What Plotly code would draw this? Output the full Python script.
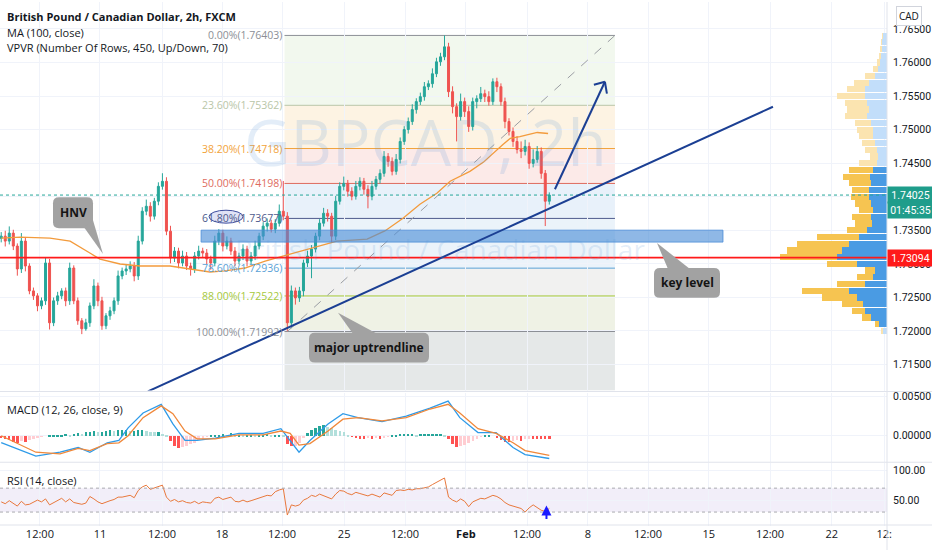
import plotly.graph_objects as go

# ---------------- data ----------------
# one candle per 4h (two 2h bars), x = candle index
open0 = 1.73380
close = [
    1.73413, 1.73339, 1.73458, 1.73265, 1.72924, 1.73339, 1.72968, 1.72597, 1.72523, 1.72374,
    1.72449, 1.73013, 1.72122, 1.72449, 1.72523, 1.72597, 1.72449, 1.72938, 1.72449, 1.72152,
    1.72033, 1.72122, 1.72374, 1.72671, 1.72449, 1.72077, 1.72226, 1.72300, 1.72449, 1.72820,
    1.72894, 1.72924, 1.72968, 1.72820, 1.73339, 1.73784, 1.73858, 1.73710, 1.73933, 1.74155,
    1.74230, 1.73487, 1.73087, 1.73190, 1.73013, 1.73116, 1.72968, 1.72924, 1.73116, 1.73190,
    1.73161, 1.73072, 1.73013, 1.73339, 1.73458, 1.73265, 1.73339, 1.73190, 1.73042, 1.73116,
    1.73220, 1.73042, 1.73116, 1.73265, 1.73413, 1.73562, 1.73606, 1.73517, 1.73606, 1.73784,
    1.73710, 1.72122, 1.72597, 1.72493, 1.72597, 1.73013, 1.73116, 1.73220, 1.73413, 1.73606,
    1.73754, 1.73710, 1.73413, 1.73933, 1.74155, 1.74200, 1.74081, 1.74007, 1.74155, 1.74230,
    1.74111, 1.74007, 1.74155, 1.74259, 1.74348, 1.74600, 1.74526, 1.74378, 1.74556, 1.74823,
    1.75001, 1.75120, 1.75298, 1.75417, 1.75491, 1.75639, 1.75684, 1.75832, 1.76010, 1.76084,
    1.76233, 1.75565, 1.75342, 1.75194, 1.75417, 1.75268, 1.75046, 1.75417, 1.75461, 1.75535,
    1.75491, 1.75417, 1.75713, 1.75639, 1.75417, 1.75120, 1.74972, 1.74823, 1.74704, 1.74675,
    1.74749, 1.74497, 1.74556, 1.74675, 1.74348, 1.73933, 1.74025,
]
# wick lengths in pips
wick_up = [
    6, 8, 10, 5, 4, 12, 6, 4, 5, 4,
    5, 8, 6, 5, 6, 4, 5, 8, 4, 5,
    4, 6, 5, 10, 5, 6, 4, 6, 5, 8,
    5, 6, 7, 6, 8, 6, 10, 6, 5, 6,
    12, 6, 8, 6, 5, 8, 6, 5, 6, 8,
    5, 6, 5, 8, 6, 5, 7, 5, 6, 5,
    7, 5, 6, 8, 5, 6, 7, 5, 6, 10,
    45, 6, 8, 5, 6, 5, 8, 6, 5, 6,
    8, 6, 5, 8, 6, 10, 5, 6, 8, 6,
    5, 6, 8, 5, 6, 8, 5, 6, 8, 6,
    5, 6, 8, 5, 6, 7, 5, 8, 6, 6,
    17, 6, 8, 5, 12, 6, 8, 6, 5, 10,
    6, 8, 5, 6, 5, 6, 5, 6, 8, 12,
    10, 6, 15, 8, 6, 5, 4,
]
wick_dn = [
    6, 8, 5, 6, 10, 6, 8, 5, 6, 8,
    5, 6, 10, 5, 6, 5, 8, 6, 5, 6,
    8, 3, 6, 5, 8, 6, 5, 6, 5, 6,
    5, 6, 5, 8, 6, 5, 6, 8, 5, 6,
    5, 6, 8, 6, 8, 5, 6, 10, 6, 5,
    6, 8, 10, 5, 6, 8, 5, 6, 8, 5,
    6, 8, 5, 6, 5, 6, 8, 5, 6, 5,
    6, 13, 8, 10, 6, 8, 6, 33, 5, 6,
    5, 8, 10, 6, 5, 6, 8, 6, 5, 6,
    8, 18, 6, 5, 6, 5, 8, 6, 5, 6,
    5, 6, 5, 6, 5, 6, 5, 6, 5, 6,
    5, 8, 10, 37, 6, 8, 8, 6, 10, 5,
    8, 6, 5, 8, 6, 10, 6, 8, 6, 10,
    6, 8, 6, 5, 8, 37, 5,
]

ma_x = [0, 4.7, 12.1, 17.1, 22.0, 24.5, 29.5, 34.4, 41.9, 46.8, 51.8, 55.5, 60.5, 65.5, 69.9,
        74.9, 83.3, 90.8, 95.2, 99.7, 103.9, 108.1, 111.4, 116.3, 119.6, 124.5, 126.3, 128.7,
        133.0, 135.7]
ma100 = [1.73384, 1.73398, 1.73384, 1.73339, 1.73161, 1.73072, 1.72998, 1.72968, 1.72968,
         1.72924, 1.72879, 1.72894, 1.72938, 1.73042, 1.73116, 1.73190, 1.73339, 1.73369,
         1.73490, 1.73680, 1.73888, 1.74051, 1.74230, 1.74378, 1.74512, 1.74779, 1.74868,
         1.74897, 1.74957, 1.74942]

macd_x = [0, 8.6, 14.6, 19.1, 22.0, 26.3, 29.2, 31.5, 35.2, 39.7, 42.6, 45.6, 48.6, 53.1, 59.0,
          65.0, 69.4, 71.7, 73.9, 76.6, 81.1, 84.8, 88.5, 94.5, 100.5, 106.4, 110.9, 113.8,
          118.3, 122.8, 127.0, 130.0, 136.0]
macd = [-0.00088, -0.00260, -0.00210, -0.00150, -0.00210, -0.00090, -0.00060, 0.00100,
        0.00290, 0.00400, 0.00150, -0.00060, -0.00060, -0.00030, 0.00030, 0.00030, 0.00090,
        -0.00060, -0.00210, -0.00060, 0.00150, 0.00280, 0.00230, 0.00180, 0.00250, 0.00350,
        0.00440, 0.00230, 0.00040, 0.00040, -0.00150, -0.00240, -0.00290]
signal = [0.00000, -0.00210, -0.00230, -0.00160, -0.00190, -0.00100, -0.00090, 0.00000,
          0.00230, 0.00380, 0.00280, 0.00060, -0.00040, -0.00040, 0.00010, 0.00010, 0.00060,
          0.00030, -0.00120, -0.00100, 0.00060, 0.00210, 0.00230, 0.00190, 0.00230, 0.00340,
          0.00400, 0.00290, 0.00090, 0.00030, -0.00090, -0.00190, -0.00250]
hist_e4 = [
    -2, -4, -5, -7, -8, -6, -7, -5, -3, -2,
    -1, 0, 1, 1, 2, 2, 3, 2, 3, 4,
    3, 5, 6, 7, 5, 6, 7, 8, 7, 8,
    8, 8, 7, 7, 8, 8, 7, 6, 5, 5,
    3, 1, -6, -12, -15, -14, -12, -10, -8, -5,
    -3, -1, 1, 2, 2, 3, 2, 4, 2, 2,
    1, 2, 2, 1, 2, 2, 3, 2, 2, 2,
    1, -10, -13, -12, -8, -2, 4, 8, 11, 13,
    14, 12, 10, 8, 7, 6, 2, -1, -2, -3,
    -3, -2, -3, -2, -3, -2, -1, 1, 2, 3,
    3, 3, 3, 2, 3, 3, 3, 3, 3, 3,
    2, -4, -10, -14, -13, -11, -8, -6, -4, -1,
    1, 1, 0, -2, -5, -7, -7, -6, -5, -6,
    -4, -3, -3, -3, -3, -3, -3,
]
rsi = [
    47, 44, 49, 45, 40, 48, 42, 43, 46, 50,
    47, 52, 42, 46, 49, 53, 47, 52, 46, 44,
    43, 45, 56, 52, 47, 44, 47, 49, 51, 55,
    55, 57, 58, 54, 66, 72, 75, 68, 70, 73,
    75, 55, 48, 51, 47, 49, 46, 45, 48, 44,
    47, 46, 45, 53, 55, 51, 53, 55, 48, 47,
    50, 47, 49, 51, 53, 56, 58, 57, 64, 67,
    69, 25, 42, 40, 42, 50, 53, 58, 56, 60,
    57, 55, 52, 60, 66, 65, 61, 59, 63, 61,
    59, 57, 60, 57, 55, 62, 60, 58, 66, 67,
    66, 68, 67, 69, 69, 71, 72, 76, 80, 83,
    87, 55, 50, 47, 52, 48, 39, 47, 50, 53,
    52, 55, 58, 56, 52, 46, 42, 40, 38, 36,
    30, 37, 42, 38, 33, 31, 36,
]

# volume profile (visible range), price rows
vp_price = [1.7200, 1.7210, 1.7220, 1.7230, 1.7240, 1.7250, 1.7260, 1.7270, 1.7280, 1.7290,
            1.7300, 1.7310, 1.7320, 1.7330, 1.7340, 1.7350, 1.7360, 1.7370, 1.7380, 1.7390,
            1.7400, 1.7410, 1.7420, 1.7430, 1.7440, 1.7450, 1.7460, 1.7470, 1.7480, 1.7490,
            1.7500, 1.7510, 1.7520, 1.7530, 1.7540, 1.7550, 1.7560, 1.7570, 1.7580, 1.7590,
            1.7600, 1.7610, 1.7620, 1.7630, 1.7640]
vp_up = [4, 8, 16, 22, 24, 30, 38, 22, 14, 12, 30, 50, 45, 38, 28, 20, 15, 16, 14, 16,
         18, 18, 16, 17, 14, 10, 9, 10, 12, 14, 14, 16, 20, 18, 20, 22, 22, 18, 12, 9,
         7, 6, 5, 5, 4]
vp_down = [2, 4, 9, 13, 21, 35, 47, 28, 16, 10, 30, 57, 55, 52, 42, 20, 17, 19, 14, 16,
           18, 17, 22, 27, 24, 18, 8, 12, 13, 14, 16, 16, 22, 22, 22, 28, 18, 15, 10, 5,
           3, 2, 2, 1, 1]
VALUE_AREA = (1.7205, 1.7447)

fib_ratio_txt = ["0.00%", "23.60%", "38.20%", "50.00%", "61.80%", "78.60%", "88.00%", "100.00%"]
fib_price = [1.76403, 1.75362, 1.74718, 1.74198, 1.73677, 1.72936, 1.72522, 1.71992]
fib_color = ["#8c8f96", "#b9c6a8", "#f2a33a", "#de6b5e", "#4e5b8c", "#5aa2d6", "#a5c83c", "#8c8f96"]
fib_fill = ["#f1f7ec", "#fdf2e0", "#fce8e6", "#e5eff9", "#e9f2fa", "#eff0ee", "#edf1e2", "#e2e6e6"]
FIB_X = (70.3, 152.3)

key_zone = (1.73324, 1.73502)
key_zone_x = (49.6, 179.1)
red_level = 1.73094
last_price = 1.74025
trend = [(36.4, 1.71100), (191.5, 1.75340)]
arrow = [(137.4, 1.74111), (149.8, 1.75713)]

x_tickvals = [9.6, 24.5, 39.9, 54.8, 69.7, 85.1, 100.2, 115.3, 130.5, 145.6, 160.5, 175.6,
              190.8, 206.1, 219.1]
x_ticktext = ["12:00", "11", "12:00", "18", "12:00", "25", "12:00", "<b>Feb</b>", "12:00", "8",
              "12:00", "15", "12:00", "22", "12:"]

# ---------------- geometry ----------------
PLOT_W, PLOT_H = 887, 526
X_RANGE = [-0.3, 219.8]
Y_RANGE = [1.71113, 1.76901]
MACD_RANGE = [-0.003375, 0.0055]
RSI_RANGE = [6.67, 111.67]
FONT = "Open Sans, DejaVu Sans, sans-serif"
AXFONT = dict(family="Roboto, sans-serif", size=10.5, color="#131722")


def ux(px):
    return X_RANGE[0] + px / PLOT_W * (X_RANGE[1] - X_RANGE[0])


def py(pix):
    return Y_RANGE[1] - pix / 390 * (Y_RANGE[1] - Y_RANGE[0])


def pp(x, y):
    return f"{x / PLOT_W:.5f},{1 - y / PLOT_H:.5f}"


def rounded_box(x0, y0, x1, y1, r=6):
    return (f"M {pp(x0 + r, y0)} L {pp(x1 - r, y0)} Q {pp(x1, y0)} {pp(x1, y0 + r)} "
            f"L {pp(x1, y1 - r)} Q {pp(x1, y1)} {pp(x1 - r, y1)} L {pp(x0 + r, y1)} "
            f"Q {pp(x0, y1)} {pp(x0, y1 - r)} L {pp(x0, y0 + r)} Q {pp(x0, y0)} {pp(x0 + r, y0)} Z")


n = len(close)
xs = list(range(n))
opens = [open0] + close[:-1]
highs = [max(o, c) + w * 1e-4 for o, c, w in zip(opens, close, wick_up)]
lows = [min(o, c) - w * 1e-4 for o, c, w in zip(opens, close, wick_dn)]
hist = [h * 1e-4 for h in hist_e4]
hist_col = []
for i, h in enumerate(hist):
    prev = hist[i - 1] if i else 0
    if h >= 0:
        hist_col.append("#26a69a" if h >= prev else "#b2dfdb")
    else:
        hist_col.append("#ff5252" if h <= prev else "#ffcdd2")

fig = go.Figure()

fig.add_trace(go.Candlestick(
    x=xs, open=opens, high=highs, low=lows, close=close,
    increasing=dict(line=dict(color="#26a69a", width=1), fillcolor="#26a69a"),
    decreasing=dict(line=dict(color="#ef5350", width=1), fillcolor="#ef5350"),
    whiskerwidth=0, xaxis="x", yaxis="y", hoverinfo="skip"))
fig.add_trace(go.Scatter(x=ma_x, y=ma100, mode="lines", line=dict(color="#f39b3c", width=1.3),
                         xaxis="x", yaxis="y", hoverinfo="skip"))

in_va = [VALUE_AREA[0] <= p <= VALUE_AREA[1] for p in vp_price]
fig.add_trace(go.Bar(x=vp_up, y=vp_price, orientation="h", width=0.00092,
                     marker=dict(color=["#4a9be3" if v else "#c2defa" for v in in_va], line_width=0),
                     xaxis="x4", yaxis="y", hoverinfo="skip"))
fig.add_trace(go.Bar(x=vp_down, y=vp_price, orientation="h", width=0.00092,
                     marker=dict(color=["#f6c451" if v else "#fbe4b0" for v in in_va], line_width=0),
                     xaxis="x4", yaxis="y", hoverinfo="skip"))

fig.add_trace(go.Bar(x=xs, y=hist, marker=dict(color=hist_col, line_width=0), width=0.6,
                     xaxis="x2", yaxis="y2", hoverinfo="skip"))
fig.add_trace(go.Scatter(x=macd_x, y=macd, mode="lines", line=dict(color="#2f9be8", width=1.3),
                         xaxis="x2", yaxis="y2", hoverinfo="skip"))
fig.add_trace(go.Scatter(x=macd_x, y=signal, mode="lines", line=dict(color="#f0883a", width=1.3),
                         xaxis="x2", yaxis="y2", hoverinfo="skip"))

fig.add_trace(go.Scatter(x=xs, y=rsi, mode="lines", line=dict(color="#e8783c", width=1),
                         xaxis="x3", yaxis="y3", hoverinfo="skip"))

shapes = []
annotations = []

# fib retracement bands / levels
for i in range(len(fib_price)):
    top = fib_price[i]
    bot = fib_price[i + 1] if i + 1 < len(fib_price) else Y_RANGE[0]
    shapes.append(dict(type="rect", xref="x", yref="y", x0=FIB_X[0], x1=FIB_X[1], y0=bot, y1=top,
                       fillcolor=fib_fill[i], line_width=0, layer="below", opacity=0.9))
for p, c, t in zip(fib_price, fib_color, fib_ratio_txt):
    shapes.append(dict(type="line", xref="x", yref="y", x0=FIB_X[0], x1=FIB_X[1], y0=p, y1=p,
                       line=dict(color=c, width=1), layer="below"))
    annotations.append(dict(xref="x", yref="y", x=FIB_X[0] - 0.2, y=p, xanchor="right",
                            yanchor="middle", text=f"{t}({p:.5f})", showarrow=False,
                            font=dict(family=FONT, size=10.5, color=c)))
shapes.append(dict(type="line", xref="x", yref="y", x0=71, y0=fib_price[-1], x1=FIB_X[1],
                   y1=fib_price[0], line=dict(color="#9a9da3", width=1, dash="dash")))

# ellipse round 61.80
shapes.append(dict(type="circle", xref="x", yref="y", x0=ux(209), x1=ux(243), y0=py(222), y1=py(209),
                   fillcolor="rgba(170,175,230,0.35)", line=dict(color="#3f4f9f", width=1)))

# key zone, levels, trendline
shapes.append(dict(type="rect", xref="x", yref="y", x0=key_zone_x[0], x1=key_zone_x[1],
                   y0=key_zone[0], y1=key_zone[1], fillcolor="rgba(74,140,215,0.62)",
                   line=dict(color="rgba(74,140,215,0.8)", width=1)))
shapes.append(dict(type="line", xref="paper", yref="y", x0=0, x1=1, y0=last_price, y1=last_price,
                   line=dict(color="#26a69a", width=1, dash="dot")))
shapes.append(dict(type="line", xref="paper", yref="y", x0=0, x1=1, y0=red_level, y1=red_level,
                   line=dict(color="#ff1a1a", width=1.8)))
shapes.append(dict(type="line", xref="x", yref="y", x0=trend[0][0], y0=trend[0][1],
                   x1=trend[1][0], y1=trend[1][1], line=dict(color="#1b3f93", width=2)))

# blue arrow
(ax0, ay0), (ax1, ay1) = arrow
shapes.append(dict(type="line", xref="x", yref="y", x0=ax0, y0=ay0, x1=ax1, y1=ay1,
                   line=dict(color="#1b3f93", width=2)))
for dx, dy in [(-11, 3), (2, 12)]:
    shapes.append(dict(type="line", xref="x", yref="y", x0=ax1, y0=ay1,
                       x1=ax1 + dx * (X_RANGE[1] - X_RANGE[0]) / PLOT_W,
                       y1=ay1 - dy * (Y_RANGE[1] - Y_RANGE[0]) / 390,
                       line=dict(color="#1b3f93", width=2)))

# RSI band
shapes.append(dict(type="rect", xref="paper", yref="y3", x0=0, x1=1, y0=30, y1=70,
                   fillcolor="rgba(149,117,205,0.12)", line_width=0, layer="below"))
for lv in (30, 70):
    shapes.append(dict(type="line", xref="paper", yref="y3", x0=0, x1=1, y0=lv, y1=lv,
                       line=dict(color="#a9aab0", width=1, dash="dot")))

# pane separators and price scale border
for yy in (391, 462, 525):
    shapes.append(dict(type="line", xref="paper", yref="paper", x0=0, x1=932 / PLOT_W,
                       y0=1 - yy / PLOT_H, y1=1 - yy / PLOT_H, line=dict(color="#e0e3eb", width=1)))
shapes.append(dict(type="line", xref="paper", yref="paper", x0=1, x1=1, y0=-0.05, y1=1,
                   line=dict(color="#e0e3eb", width=1)))

# callouts
GREY = "#a2a2a2"
callouts = [
    ("HNV", (53, 196, 93, 227), [(84, 226), (93, 219), (103, 253)]),
    ("major uptrendline", (309, 332, 429, 362), [(353, 333), (377, 333), (338, 312)]),
    ("key level", (654, 267, 720, 297), [(668, 268), (690, 268), (657, 242)]),
]
for text, (x0, y0, x1, y1), tail in callouts:
    shapes.append(dict(type="path", xref="paper", yref="paper", path=rounded_box(x0, y0, x1, y1),
                       fillcolor=GREY, line_width=0))
    shapes.append(dict(type="path", xref="paper", yref="paper",
                       path="M " + " L ".join(pp(a, b) for a, b in tail) + " Z",
                       fillcolor=GREY, line_width=0))
    annotations.append(dict(xref="paper", yref="paper", x=(x0 + x1) / 2 / PLOT_W,
                            y=1 - (y0 + y1) / 2 / PLOT_H, xanchor="center", yanchor="middle",
                            text=f"<b>{text}</b>", showarrow=False,
                            font=dict(family=FONT, size=12, color="#141414")))

# watermark
annotations.append(dict(xref="paper", yref="paper", x=425 / PLOT_W, y=1 - 140 / PLOT_H,
                        xanchor="center", yanchor="middle", text="GBPCAD, 2h", showarrow=False,
                        font=dict(family=FONT, size=64, color="rgba(90,150,215,0.17)")))
annotations.append(dict(xref="paper", yref="paper", x=440 / PLOT_W, y=1 - 248 / PLOT_H,
                        xanchor="center", yanchor="middle",
                        text="British Pound / Canadian Dollar", showarrow=False,
                        font=dict(family=FONT, size=28, color="rgba(90,150,215,0.17)")))

# header and pane titles
for txt, yy, bold in [("British Pound / Canadian Dollar, 2h, FXCM", 15, True),
                      ("MA (100, close)", 31, False),
                      ("VPVR (Number Of Rows, 450, Up/Down, 70)", 46, False),
                      ("MACD (12, 26, close, 9)", 409, False),
                      ("RSI (14, close)", 480, False)]:
    annotations.append(dict(xref="paper", yref="paper", x=5 / PLOT_W, y=1 - yy / PLOT_H,
                            xanchor="left", yanchor="middle", showarrow=False,
                            text=f"<b>{txt}</b>" if bold else txt,
                            font=dict(family=FONT, size=11, color="#131722")))

# price scale labels
for txt, yv, bg in [(f"{last_price:.5f}", last_price, "#1f9d8b"),
                    ("01:45:35", py(209), "#1f9d8b"),
                    (f"{red_level:.5f}", red_level, "#ff1a1a")]:
    annotations.append(dict(xref="paper", yref="y", x=1, y=yv, xanchor="left", yanchor="middle",
                            text=txt, showarrow=False, bgcolor=bg, width=43, height=14,
                            font=dict(family="Roboto, sans-serif", size=10.5, color="white")))
annotations.append(dict(xref="paper", yref="paper", x=909 / PLOT_W, y=1 - 14 / PLOT_H,
                        xanchor="center", yanchor="middle",
                        text="CAD", showarrow=False, bordercolor="#d1d4dc", borderwidth=1,
                        borderpad=2, bgcolor="white", font=dict(family=FONT, size=10, color="#131722")))

# RSI arrow
annotations.append(dict(xref="x3", yref="y3", x=135.3, y=41, ax=135.3, ay=16, axref="x3",
                        ayref="y3", showarrow=True, arrowhead=2, arrowsize=1, arrowwidth=2,
                        arrowcolor="#1a1aff", text=""))

grid = "#f0f3fa"
xcommon = dict(range=X_RANGE, tickvals=x_tickvals, ticktext=x_ticktext, showgrid=True,
               gridcolor=grid, zeroline=False, showline=False, ticks="")
ycommon = dict(side="right", showgrid=True, gridcolor=grid, zeroline=False, ticks="",
               ticklabelstandoff=5, tickfont=AXFONT)
fig.update_layout(
    width=932, height=550, margin=dict(l=0, r=45, t=0, b=24),
    paper_bgcolor="white", plot_bgcolor="white", showlegend=False, barmode="stack",
    bargap=0, hovermode=False, font=dict(family=FONT, size=11, color="#131722"),
    xaxis=dict(xcommon, domain=[0, 1], anchor="y", showticklabels=False,
               rangeslider=dict(visible=False)),
    xaxis2=dict(xcommon, domain=[0, 1], anchor="y2", matches="x", showticklabels=False),
    xaxis3=dict(xcommon, domain=[0, 1], anchor="y3", matches="x", showticklabels=True,
                tickfont=dict(family=FONT, size=11, color="#131722")),
    xaxis4=dict(overlaying="x", anchor="y", range=[PLOT_W, 0], visible=False),
    yaxis=dict(ycommon, domain=[1 - 390 / PLOT_H, 1], anchor="x", range=Y_RANGE,
               tick0=1.715, dtick=0.005, tickformat=".5f"),
    yaxis2=dict(ycommon, domain=[1 - 462 / PLOT_H, 1 - 392 / PLOT_H], anchor="x2",
                range=MACD_RANGE, tickvals=[0.005, 0.0], ticktext=["0.00500", "0.00000"]),
    yaxis3=dict(ycommon, domain=[0, 1 - 463 / PLOT_H], anchor="x3", range=RSI_RANGE,
                tickvals=[100, 50], ticktext=["100.00", "50.00"]),
    shapes=shapes, annotations=annotations,
)

fig.write_html("out.html", config={"displayModeBar": False},
               post_script="document.body.style.margin='0';")
